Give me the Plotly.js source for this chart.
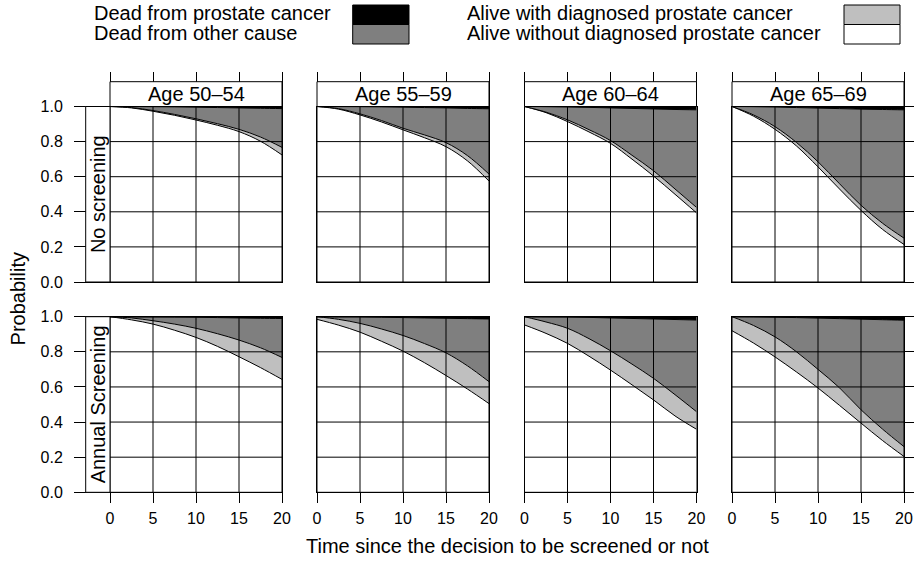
<!DOCTYPE html>
<html>
<head>
<meta charset="utf-8">
<script src="https://cdn.plot.ly/plotly-3.0.1.min.js"></script>
<style>html,body{margin:0;padding:0;background:#fff;}#chart{width:916px;height:561px;}</style>
</head>
<body>
<div id="chart"></div>
<script>
// ---------------- DATA ----------------
const years = [0, 2.5, 5, 7.5, 10, 12.5, 15, 17.5, 20];
const ceiling = [1, 1, 1, 1, 1, 1, 1, 1, 1];
const ageGroups = ['Age 50\u201354', 'Age 55\u201359', 'Age 60\u201364', 'Age 65\u201369'];
const strategies = ['No screening', 'Annual Screening'];
const xTicks = [0, 5, 10, 15, 20];
const yTicks = [0, 0.2, 0.4, 0.6, 0.8, 1.0];
const yTickText = ['0.0', '0.2', '0.4', '0.6', '0.8', '1.0'];
const legendLabels = ['Dead from prostate cancer', 'Dead from other cause',
  'Alive with diagnosed prostate cancer', 'Alive without diagnosed prostate cancer'];

// No screening: alive without diagnosis / alive (total) / not dead from prostate cancer
const noScr5054_undiag = [1.000, 0.992, 0.973, 0.950, 0.923, 0.893, 0.857, 0.802, 0.724];
const noScr5054_alive  = [1.000, 0.994, 0.977, 0.955, 0.930, 0.902, 0.870, 0.826, 0.767];
const noScr5054_notPC  = [1.000, 0.9995, 0.999, 0.998, 0.996, 0.994, 0.992, 0.990, 0.988];

const noScr5559_undiag = [1.000, 0.985, 0.952, 0.912, 0.867, 0.822, 0.771, 0.690, 0.575];
const noScr5559_alive  = [1.000, 0.988, 0.958, 0.920, 0.876, 0.838, 0.794, 0.720, 0.615];
const noScr5559_notPC  = [1.000, 0.9995, 0.999, 0.998, 0.996, 0.994, 0.992, 0.989, 0.987];

const noScr6064_undiag = [1.000, 0.965, 0.914, 0.855, 0.790, 0.700, 0.604, 0.500, 0.394];
const noScr6064_alive  = [1.000, 0.968, 0.924, 0.868, 0.806, 0.722, 0.634, 0.530, 0.425];
const noScr6064_notPC  = [1.000, 0.999, 0.997, 0.995, 0.992, 0.989, 0.986, 0.983, 0.981];

const noScr6569_undiag = [1.000, 0.945, 0.870, 0.775, 0.656, 0.530, 0.408, 0.300, 0.214];
const noScr6569_alive  = [1.000, 0.952, 0.885, 0.795, 0.685, 0.560, 0.437, 0.335, 0.250];
const noScr6569_notPC  = [1.000, 0.999, 0.997, 0.994, 0.991, 0.988, 0.985, 0.983, 0.981];

// Annual screening
const scr5054_undiag = [1.000, 0.982, 0.958, 0.923, 0.882, 0.831, 0.772, 0.710, 0.643];
const scr5054_alive  = [1.000, 0.993, 0.977, 0.958, 0.934, 0.903, 0.867, 0.823, 0.768];
const scr5054_notPC  = [1.000, 0.9995, 0.999, 0.998, 0.997, 0.995, 0.993, 0.991, 0.990];

const scr5559_undiag = [0.985, 0.952, 0.912, 0.860, 0.804, 0.738, 0.665, 0.588, 0.505];
const scr5559_alive  = [1.000, 0.985, 0.962, 0.930, 0.893, 0.847, 0.794, 0.720, 0.630];
const scr5559_notPC  = [1.000, 0.9995, 0.999, 0.997, 0.995, 0.993, 0.991, 0.989, 0.987];

const scr6064_undiag = [0.953, 0.905, 0.848, 0.775, 0.696, 0.612, 0.526, 0.435, 0.359];
const scr6064_alive  = [1.000, 0.970, 0.934, 0.875, 0.806, 0.730, 0.649, 0.556, 0.459];
const scr6064_notPC  = [1.000, 0.999, 0.998, 0.996, 0.993, 0.990, 0.987, 0.984, 0.981];

const scr6569_undiag = [0.920, 0.850, 0.771, 0.685, 0.594, 0.495, 0.394, 0.295, 0.204];
const scr6569_alive  = [1.000, 0.950, 0.885, 0.800, 0.700, 0.595, 0.470, 0.360, 0.260];
const scr6569_notPC  = [1.000, 0.999, 0.997, 0.995, 0.992, 0.989, 0.986, 0.983, 0.980];

const panelSeries = [
  [noScr5054_undiag, noScr5054_alive, noScr5054_notPC],
  [noScr5559_undiag, noScr5559_alive, noScr5559_notPC],
  [noScr6064_undiag, noScr6064_alive, noScr6064_notPC],
  [noScr6569_undiag, noScr6569_alive, noScr6569_notPC],
  [scr5054_undiag, scr5054_alive, scr5054_notPC],
  [scr5559_undiag, scr5559_alive, scr5559_notPC],
  [scr6064_undiag, scr6064_alive, scr6064_notPC],
  [scr6569_undiag, scr6569_alive, scr6569_notPC]
];

// ---------------- STYLE / GEOMETRY ----------------
const W = 916, H = 561;
const FONT = 'Liberation Sans, Arial, Helvetica, sans-serif';
const colDark = '#7f7f7f', colLight = '#bfbfbf';
const fx = px => px / W;
const fy = py => 1 - py / H;
const colLeft = [110, 317, 524.5, 732];
const colWidth = 172;
const rowTop = [106.5, 316.7];
const rowBottom = [282, 492.3];
const stripTop = 81.7;
const leftStripX = 85.7;

const data = [];
const layout = {
  width: W, height: H,
  margin: {l: 0, r: 0, t: 0, b: 0},
  paper_bgcolor: '#fff', plot_bgcolor: '#fff',
  showlegend: false, hovermode: false,
  font: {family: FONT, color: '#000', size: 16},
  shapes: [], annotations: []
};

for (let r = 0; r < 2; r++) {
  for (let c = 0; c < 4; c++) {
    const i = r * 4 + c + 1;
    const xa = 'x' + (i === 1 ? '' : i), ya = 'y' + (i === 1 ? '' : i);
    const [undiag, alive, notPC] = panelSeries[i - 1];
    const base = {x: years, xaxis: xa, yaxis: ya, mode: 'lines', hoverinfo: 'skip',
                  line: {color: '#000', width: 1, shape: 'spline', smoothing: 1}};
    data.push(Object.assign({}, base, {y: undiag}));
    data.push(Object.assign({}, base, {y: alive, fill: 'tonexty', fillcolor: colLight}));
    data.push(Object.assign({}, base, {y: notPC, fill: 'tonexty', fillcolor: colDark}));
    data.push(Object.assign({}, base, {y: ceiling, fill: 'tonexty', fillcolor: '#000'}));

    const xKey = 'xaxis' + (i === 1 ? '' : i), yKey = 'yaxis' + (i === 1 ? '' : i);
    layout[xKey] = {
      domain: [fx(colLeft[c]), fx(colLeft[c] + colWidth)], anchor: ya,
      range: [0, 20], showgrid: false, zeroline: false,
      showline: true, mirror: true, linecolor: '#000', linewidth: 1,
      tickvals: xTicks, ticktext: xTicks.map(String),
      ticks: 'outside', tickcolor: '#000', tickwidth: 1,
      side: r === 0 ? 'top' : 'bottom',
      ticklen: r === 0 ? 34 : 9.5,
      showticklabels: r === 1, ticklabelstandoff: 2,
      tickfont: {family: FONT, size: 16, color: '#000'}, fixedrange: true
    };
    layout[yKey] = {
      domain: [fy(rowBottom[r]), fy(rowTop[r])], anchor: xa,
      range: [0, 1], showgrid: false, zeroline: false,
      showline: true, mirror: true, linecolor: '#000', linewidth: 1,
      tickvals: yTicks, ticktext: yTickText,
      ticks: (c === 0 || c === 3) ? 'outside' : '',
      side: c === 3 ? 'right' : 'left',
      ticklen: c === 0 ? 35 : 9, tickcolor: '#000', tickwidth: 1,
      showticklabels: c === 0, ticklabelstandoff: 8,
      tickfont: {family: FONT, size: 16, color: '#000'}, fixedrange: true
    };
    // grid lines over the filled areas
    xTicks.forEach(v => layout.shapes.push({type: 'line', xref: xa, yref: ya, x0: v, x1: v, y0: 0, y1: 1,
      layer: 'above', line: {color: '#000', width: 1}}));
    yTicks.forEach(v => layout.shapes.push({type: 'line', xref: xa, yref: ya, x0: 0, x1: 20, y0: v, y1: v,
      layer: 'above', line: {color: '#000', width: 1}}));
  }
}

// top strips (age groups)
for (let c = 0; c < 4; c++) {
  layout.shapes.push({type: 'rect', xref: 'paper', yref: 'paper',
    x0: fx(colLeft[c]), x1: fx(colLeft[c] + colWidth), y0: fy(rowTop[0]), y1: fy(stripTop),
    fillcolor: '#fff', line: {color: '#000', width: 1}, layer: 'above'});
  layout.annotations.push({xref: 'paper', yref: 'paper', x: fx(colLeft[c] + colWidth / 2),
    y: fy((stripTop + rowTop[0]) / 2), text: ageGroups[c], showarrow: false,
    xanchor: 'center', yanchor: 'middle', font: {family: FONT, size: 20, color: '#000'}});
}
// left strips (strategies)
for (let r = 0; r < 2; r++) {
  layout.shapes.push({type: 'rect', xref: 'paper', yref: 'paper',
    x0: fx(leftStripX), x1: fx(colLeft[0]), y0: fy(rowBottom[r]), y1: fy(rowTop[r]),
    fillcolor: '#fff', line: {color: '#000', width: 1}, layer: 'above'});
  layout.annotations.push({xref: 'paper', yref: 'paper', x: fx((leftStripX + colLeft[0]) / 2),
    y: fy((rowTop[r] + rowBottom[r]) / 2), text: strategies[r], textangle: -90, showarrow: false,
    xanchor: 'center', yanchor: 'middle', font: {family: FONT, size: 20, color: '#000'}});
}

// axis titles
layout.annotations.push({xref: 'paper', yref: 'paper', x: fx(507), y: fy(546),
  text: 'Time since the decision to be screened or not', showarrow: false,
  xanchor: 'center', yanchor: 'middle', font: {family: FONT, size: 20, color: '#000'}});
layout.annotations.push({xref: 'paper', yref: 'paper', x: fx(18), y: fy(299.4),
  text: 'Probability', textangle: -90, showarrow: false,
  xanchor: 'center', yanchor: 'middle', font: {family: FONT, size: 20, color: '#000'}});

// legend (key)
const keyTextX = [92, 92, 465, 465];
const keyTextY = [13.5, 32.5, 13.5, 32.5];
const keyBoxX = [[352.7, 409], [352.7, 409], [844, 900], [844, 900]];
const keyBoxY = [[5, 24.5], [24.5, 44], [5, 24.5], [24.5, 44]];
const keyFill = ['#000', colDark, colLight, '#fff'];
for (let k = 0; k < 4; k++) {
  layout.annotations.push({xref: 'paper', yref: 'paper', x: fx(keyTextX[k]), y: fy(keyTextY[k]),
    text: legendLabels[k], showarrow: false, xanchor: 'left', yanchor: 'middle',
    font: {family: FONT, size: 20, color: '#000'}});
  layout.shapes.push({type: 'rect', xref: 'paper', yref: 'paper',
    x0: fx(keyBoxX[k][0]), x1: fx(keyBoxX[k][1]), y0: fy(keyBoxY[k][1]), y1: fy(keyBoxY[k][0]),
    fillcolor: keyFill[k], line: {color: '#000', width: 1}, layer: 'above'});
}

Plotly.newPlot('chart', data, layout, {staticPlot: true, displayModeBar: false});
</script>
</body>
</html>
